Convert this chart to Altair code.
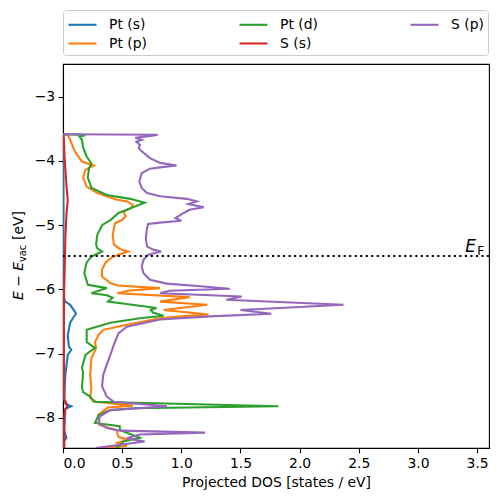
import altair as alt
import pandas as pd

E_F = -5.48

series_names = ["Pt (s)", "Pt (p)", "Pt (d)", "S (s)", "S (p)"]
series_colors = ["#1f77b4", "#ff7f0e", "#2ca02c", "#d62728", "#9467bd"]

pt_s_E = [-3.585, -3.60, -4.50, -5.50, -6.10, -6.15, -6.19, -6.24, -6.32, -6.38, -6.43, -6.52, -6.72,
          -6.89, -6.94, -7.02, -7.33, -7.70, -7.78, -7.82, -7.86, -8.20, -8.31, -8.36, -8.47]
pt_s_D = [0.0, 0.003, 0.004, 0.004, 0.004, 0.01, 0.02, 0.06, 0.09, 0.11, 0.09, 0.06, 0.04,
          0.05, 0.07, 0.04, 0.02, 0.01, 0.02, 0.07, 0.02, 0.01, 0.03, 0.01, 0.01]

pt_p_E = [-3.585, -3.59, -3.67, -3.85, -4.01, -4.07, -4.14, -4.26, -4.40, -4.50, -4.60, -4.63, -4.68,
          -4.73, -4.79, -4.86, -4.92, -4.97, -5.15, -5.30, -5.37, -5.41, -5.49, -5.58, -5.69, -5.80,
          -5.90, -5.94, -5.98, -6.02, -6.06, -6.12, -6.19, -6.24, -6.32, -6.39, -6.42, -6.45, -6.55,
          -6.63, -6.71, -6.82, -6.91, -7.07, -7.33, -7.53, -7.69, -7.75, -7.81, -7.84, -7.95, -8.11,
          -8.19, -8.30, -8.34, -8.39, -8.44, -8.47]
pt_p_D = [0.0, 0.04, 0.06, 0.10, 0.16, 0.26, 0.19, 0.17, 0.20, 0.29, 0.45, 0.54, 0.59,
          0.58, 0.51, 0.53, 0.50, 0.44, 0.42, 0.43, 0.48, 0.55, 0.42, 0.36, 0.33, 0.33,
          0.40, 0.46, 0.82, 0.55, 0.46, 1.07, 0.82, 1.22, 0.85, 1.23, 1.00, 0.82, 0.54,
          0.34, 0.30, 0.27, 0.28, 0.24, 0.23, 0.24, 0.23, 0.28, 0.59, 0.38, 0.30, 0.31,
          0.45, 0.47, 0.55, 0.46, 0.54, 0.28]

pt_d_E = [-3.585, -3.59, -3.60, -3.62, -3.67, -3.79, -3.93, -4.04, -4.11, -4.26, -4.42, -4.53, -4.59,
          -4.65, -4.73, -4.81, -4.89, -4.92, -5.00, -5.15, -5.30, -5.36, -5.41, -5.49, -5.58, -5.74,
          -5.93, -5.98, -6.06, -6.09, -6.13, -6.19, -6.27, -6.29, -6.32, -6.36, -6.41, -6.45, -6.52,
          -6.63, -6.82, -6.91, -7.02, -7.22, -7.30, -7.52, -7.60, -7.67, -7.75, -7.82, -7.85, -7.88,
          -7.96, -8.08, -8.13, -8.19, -8.31, -8.37, -8.45, -8.47]
pt_d_D = [0.0, 0.13, 0.19, 0.14, 0.16, 0.17, 0.20, 0.24, 0.22, 0.21, 0.24, 0.37, 0.57,
          0.69, 0.58, 0.47, 0.42, 0.40, 0.33, 0.29, 0.28, 0.29, 0.33, 0.24, 0.20, 0.18,
          0.21, 0.37, 0.24, 0.37, 0.42, 0.38, 0.71, 0.79, 0.74, 0.76, 0.85, 0.65, 0.40,
          0.20, 0.20, 0.27, 0.19, 0.16, 0.17, 0.16, 0.17, 0.23, 0.26, 1.82, 0.60, 0.40,
          0.30, 0.27, 0.48, 0.48, 0.65, 0.51, 0.47, 0.45]

s_s_E = [-3.585, -3.60, -4.00, -4.40, -4.62, -4.80, -5.20, -5.60, -6.00, -6.50, -7.50, -7.72,
         -7.78, -7.82, -7.88, -8.00, -8.47]
s_s_D = [0.0, 0.005, 0.015, 0.03, 0.04, 0.03, 0.02, 0.015, 0.01, 0.008, 0.008, 0.012,
         0.03, 0.035, 0.015, 0.01, 0.01]

s_p_E = [-3.585, -3.592, -3.60, -3.64, -3.67, -3.70, -3.75, -3.80, -3.85, -3.955, -4.03, -4.07,
         -4.10, -4.12, -4.19, -4.32, -4.42, -4.50, -4.55, -4.59, -4.63, -4.67, -4.72, -4.76,
         -4.81, -4.89, -4.93, -4.96, -4.98, -5.05, -5.20, -5.33, -5.38, -5.41, -5.46, -5.54,
         -5.64, -5.75, -5.85, -5.91, -5.95, -5.99, -6.02, -6.06, -6.11, -6.16, -6.24, -6.32,
         -6.38, -6.42, -6.47, -6.58, -6.68, -6.86, -6.97, -7.17, -7.33, -7.51, -7.67, -7.75,
         -7.82, -7.88, -7.98, -8.08, -8.16, -8.20, -8.23, -8.26, -8.32, -8.37, -8.42, -8.47]
s_p_D = [0.0, 0.80, 0.78, 0.61, 0.665, 0.62, 0.65, 0.64, 0.665, 0.735, 0.82, 0.96,
         0.82, 0.735, 0.665, 0.645, 0.665, 0.71, 0.82, 1.045, 1.13, 1.06, 1.19, 1.07,
         1.02, 0.95, 1.00, 0.82, 0.72, 0.71, 0.70, 0.71, 0.76, 0.83, 0.72, 0.68,
         0.665, 0.68, 0.735, 0.875, 1.16, 1.41, 0.90, 0.82, 1.51, 1.38, 2.37, 1.50,
         1.76, 1.24, 0.82, 0.54, 0.47, 0.43, 0.41, 0.37, 0.34, 0.33, 0.37, 0.43,
         0.88, 0.40, 0.31, 0.30, 0.37, 0.48, 1.20, 0.65, 0.54, 0.69, 0.48, 0.28]

x_ticks = [0.0, 0.5, 1.0, 1.5, 2.0, 2.5, 3.0, 3.5]
y_ticks = [-8, -7, -6, -5, -4, -3]

rows = []
for name, es, ds in zip(series_names,
                        [pt_s_E, pt_p_E, pt_d_E, s_s_E, s_p_E],
                        [pt_s_D, pt_p_D, pt_d_D, s_s_D, s_p_D]):
    assert len(es) == len(ds), name
    for i, (e, d) in enumerate(zip(es, ds)):
        rows.append({"orbital": name, "energy": e, "dos": d, "i": i})
df = pd.DataFrame(rows)

FONT = "DejaVu Sans"
FS = 13.9

lines = alt.Chart(df).mark_line(strokeWidth=2.08, clip=True).encode(
    x=alt.X("dos:Q", scale=alt.Scale(domain=[0, 3.6], nice=False, zero=False),
            axis=alt.Axis(values=x_ticks, format=".1f", title="Projected DOS [states / eV]")),
    y=alt.Y("energy:Q", scale=alt.Scale(domain=[-8.47, -2.49], nice=False, zero=False),
            axis=alt.Axis(values=y_ticks, format="d", title=None)),
    color=alt.Color("orbital:N",
                    scale=alt.Scale(domain=series_names, range=series_colors),
                    legend=alt.Legend(title=None, orient="none", legendX=0, legendY=-54,
                                      columns=3, columnPadding=88, rowPadding=1,
                                      symbolType="M-1,0H2.11", symbolSize=324,
                                      symbolStrokeWidth=2.08,
                                      labelFont=FONT, labelFontSize=FS, labelColor="black",
                                      labelOffset=21, padding=4, strokeColor="#cccccc",
                                      fillColor="white", cornerRadius=3)),
    order=alt.Order("i:Q"),
)

ef_rule = alt.Chart(pd.DataFrame({"e": [E_F]})).mark_rule(
    color="black", strokeWidth=2.08, strokeDash=[2.08, 3.43]
).encode(y="e:Q")

ef_E = alt.Chart(pd.DataFrame({"x": [3.40], "y": [E_F], "t": ["E"]})).mark_text(
    font=FONT, fontStyle="italic", fontSize=17, align="left", baseline="alphabetic", dy=-4, color="black"
).encode(x="x:Q", y="y:Q", text="t:N")
ef_F = alt.Chart(pd.DataFrame({"x": [3.50], "y": [E_F], "t": ["F"]})).mark_text(
    font=FONT, fontSize=12, align="left", baseline="alphabetic", dy=-1, color="black"
).encode(x="x:Q", y="y:Q", text="t:N")

one = pd.DataFrame({"a": [0]})
yt1 = alt.Chart(one).mark_text(font=FONT, fontStyle="italic", fontSize=FS, angle=270,
                               align="left", baseline="alphabetic", color="black").encode(
    x=alt.value(-40), y=alt.value(236), text=alt.value("E − E"))
yt2 = alt.Chart(one).mark_text(font=FONT, fontSize=9.7, angle=270,
                               align="left", baseline="alphabetic", color="black").encode(
    x=alt.value(-37), y=alt.value(198), text=alt.value("vac"))
yt3 = alt.Chart(one).mark_text(font=FONT, fontSize=FS, angle=270,
                               align="left", baseline="alphabetic", color="black").encode(
    x=alt.value(-40), y=alt.value(176), text=alt.value("[eV]"))

chart = alt.layer(lines, ef_rule, ef_E, ef_F, yt1, yt2, yt3).properties(
    width=426, height=384,
    autosize=alt.AutoSizeParams(type="none"),
    padding={"left": 55, "top": 56, "right": 3, "bottom": 44},
).configure_view(
    stroke="black", strokeWidth=1.1
).configure_axis(
    grid=False, domainColor="black", domainWidth=1.1, tickColor="black", tickWidth=1.1,
    tickSize=4.86, labelPadding=3.5, labelFont=FONT, labelFontSize=FS, labelColor="black",
    titleFont=FONT, titleFontSize=FS, titleFontWeight="normal", titleColor="black", titlePadding=5
)

chart.save("out.html", embed_options={"renderer": "svg", "actions": False})
